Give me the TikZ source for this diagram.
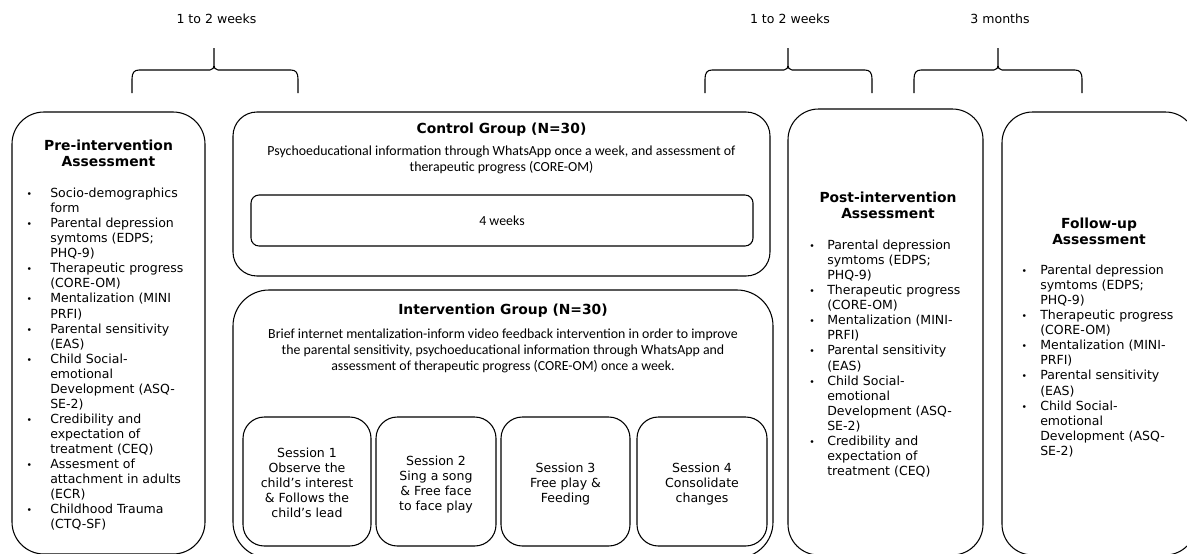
\documentclass[tikz,border=0pt]{standalone}
\usepackage{fontspec}
\setmainfont{DejaVu Sans}
\newfontfamily\calfont{Carlito}
\usetikzlibrary{fit}
\newlength\px \setlength\px{0.75pt}
\newlength\bulw
\newcommand\itm{\makebox[\bulw][l]{\fontsize{7}{7}\selectfont •}}
\newcommand\cnt{\hspace*{\bulw}}
\tikzset{
  box/.style={draw=black, line width=0.8pt, inner sep=0pt},
  brace/.style={draw=black, line width=0.8pt},
  vtext/.style={inner sep=0pt, anchor=base west, font=\fontsize{9.4}{11.3}\selectfont},
  ctext/.style={inner sep=0pt, anchor=base, font=\fontsize{9.4}{11.3}\selectfont},
  ttl/.style={inner sep=0pt, anchor=base, font=\fontsize{10.4}{12.5}\selectfont\bfseries},
  caltext/.style={inner sep=0pt, anchor=base, font=\fontsize{10.4}{12.3}\selectfont\calfont},
}
\newcommand\bracepath[3]{% left, tip, right
  \draw[brace] (#1,93) -- (#1,79) .. controls (#1,73) and (#1+2,70) .. (#1+7,70)
    -- (#2-4,70) .. controls (#2-1,70) and (#2,68) .. (#2,63) -- (#2,48)
    (#2,63) .. controls (#2,68) and (#2+1,70) .. (#2+4,70)
    -- (#3-7,70) .. controls (#3-2,70) and (#3,73) .. (#3,79) -- (#3,93);}
\begin{document}
\begin{tikzpicture}[x=0.75pt, y=-0.75pt]
\useasboundingbox (0,0) rectangle (1187,553);
\clip (0,0) rectangle (1187,553);

% braces and labels
\bracepath{132}{214}{298}
\bracepath{705}{788}{872}
\bracepath{914}{998}{1082}
\node[ctext] (lab1) at (216.5,23) {1 to 2 weeks};
\node[ctext] (lab2) at (790,23) {1 to 2 weeks};
\node[ctext] (lab3) at (1000,23) {3 months};

% boxes
\node[box, rounded corners=24pt, fit={(12,112) (205,554)}] (pre) {};
\node[box, rounded corners=18pt, fit={(233,112) (770,276)}] (ctrl) {};
\node[box, rounded corners=6pt, fit={(251,195) (753,246)}] (weeks) {};
\node[box, rounded corners=27pt, fit={(233,290) (773,558)}] (int) {};
\node[box, rounded corners=16pt, fit={(243,417) (371,546)}] (s1) {};
\node[box, rounded corners=16pt, fit={(376,417) (496,546)}] (s2) {};
\node[box, rounded corners=16pt, fit={(501,417) (630,546)}] (s3) {};
\node[box, rounded corners=16pt, fit={(637,417) (767,546)}] (s4) {};
\node[box, rounded corners=23pt, fit={(788,109) (983,555)}] (post) {};
\node[box, rounded corners=23pt, fit={(1002,112) (1196,555)}] (fol) {};

% pre-intervention
\node[ttl] (preT) at (108.5,150) {\begin{tabular}[t]{@{}c@{}}Pre-intervention\\Assessment\end{tabular}};
\node[vtext] (preL) at (26.3,197.5) {\setlength\bulw{23.7\px}\begin{tabular}[t]{@{}l@{}}
\itm Socio-demographics\\ \cnt form\\
\itm Parental depression\\ \cnt symtoms (EDPS;\\ \cnt PHQ-9)\\
\itm Therapeutic progress\\ \cnt (CORE-OM)\\
\itm Mentalization (MINI\\ \cnt PRFI)\\
\itm Parental sensitivity\\ \cnt (EAS)\\
\itm Child Social-\\ \cnt emotional\\ \cnt Development (ASQ-\\ \cnt SE-2)\\
\itm Credibility and\\ \cnt expectation of\\ \cnt treatment (CEQ)\\
\itm Assesment of\\ \cnt attachment in adults\\ \cnt (ECR)\\
\itm Childhood Trauma\\ \cnt (CTQ-SF)
\end{tabular}};

% control group
\node[ttl] (ctrlT) at (501.5,133) {Control Group (N=30)};
\node[caltext] (ctrlD) at (501.5,155.5) {\begin{tabular}[t]{@{}c@{}}Psychoeducational information through WhatsApp once a week, and assessment of\\therapeutic progress (CORE-OM)\end{tabular}};
\node[caltext] (weeksT) at (502,225) {4 weeks};

% intervention group
\node[ttl] (intT) at (503,314.5) {Intervention Group (N=30)};
\node[caltext] (intD) at (503,338) {\begin{tabular}[t]{@{}c@{}}Brief internet mentalization-inform video feedback intervention in order to improve\\the parental sensitivity, psychoeducational information through WhatsApp and\\assessment of therapeutic progress (CORE-OM) once a week.\end{tabular}};

\node[ctext] (s1T) at (307,457.5) {\begin{tabular}[t]{@{}c@{}}Session 1\\Observe the\\child’s interest\\\& Follows the\\child’s lead\end{tabular}};
\node[ctext] (s2T) at (436,465) {\begin{tabular}[t]{@{}c@{}}Session 2\\Sing a song\\\& Free face\\to face play\end{tabular}};
\node[ctext] (s3T) at (565.5,472.5) {\begin{tabular}[t]{@{}c@{}}Session 3\\Free play \&\\Feeding\end{tabular}};
\node[ctext] (s4T) at (702,472.5) {\begin{tabular}[t]{@{}c@{}}Session 4\\Consolidate\\changes\end{tabular}};

% post
\node[ttl] (postT) at (888,202) {\begin{tabular}[t]{@{}c@{}}Post-intervention\\Assessment\end{tabular}};
\node[vtext] (postL) at (809,249.5) {\setlength\bulw{18\px}\begin{tabular}[t]{@{}l@{}}
\itm Parental depression\\ \cnt symtoms (EDPS;\\ \cnt PHQ-9)\\
\itm Therapeutic progress\\ \cnt (CORE-OM)\\
\itm Mentalization (MINI-\\ \cnt PRFI)\\
\itm Parental sensitivity\\ \cnt (EAS)\\
\itm Child Social-\\ \cnt emotional\\ \cnt Development (ASQ-\\ \cnt SE-2)\\
\itm Credibility and\\ \cnt expectation of\\ \cnt treatment (CEQ)
\end{tabular}};

% follow-up
\node[ttl] (folT) at (1099,228) {\begin{tabular}[t]{@{}c@{}}Follow-up\\Assessment\end{tabular}};
\node[vtext] (folL) at (1021.3,274.5) {\setlength\bulw{18.7\px}\begin{tabular}[t]{@{}l@{}}
\itm Parental depression\\ \cnt symtoms (EDPS;\\ \cnt PHQ-9)\\
\itm Therapeutic progress\\ \cnt (CORE-OM)\\
\itm Mentalization (MINI-\\ \cnt PRFI)\\
\itm Parental sensitivity\\ \cnt (EAS)\\
\itm Child Social-\\ \cnt emotional\\ \cnt Development (ASQ-\\ \cnt SE-2)
\end{tabular}};
\end{tikzpicture}
\end{document}
